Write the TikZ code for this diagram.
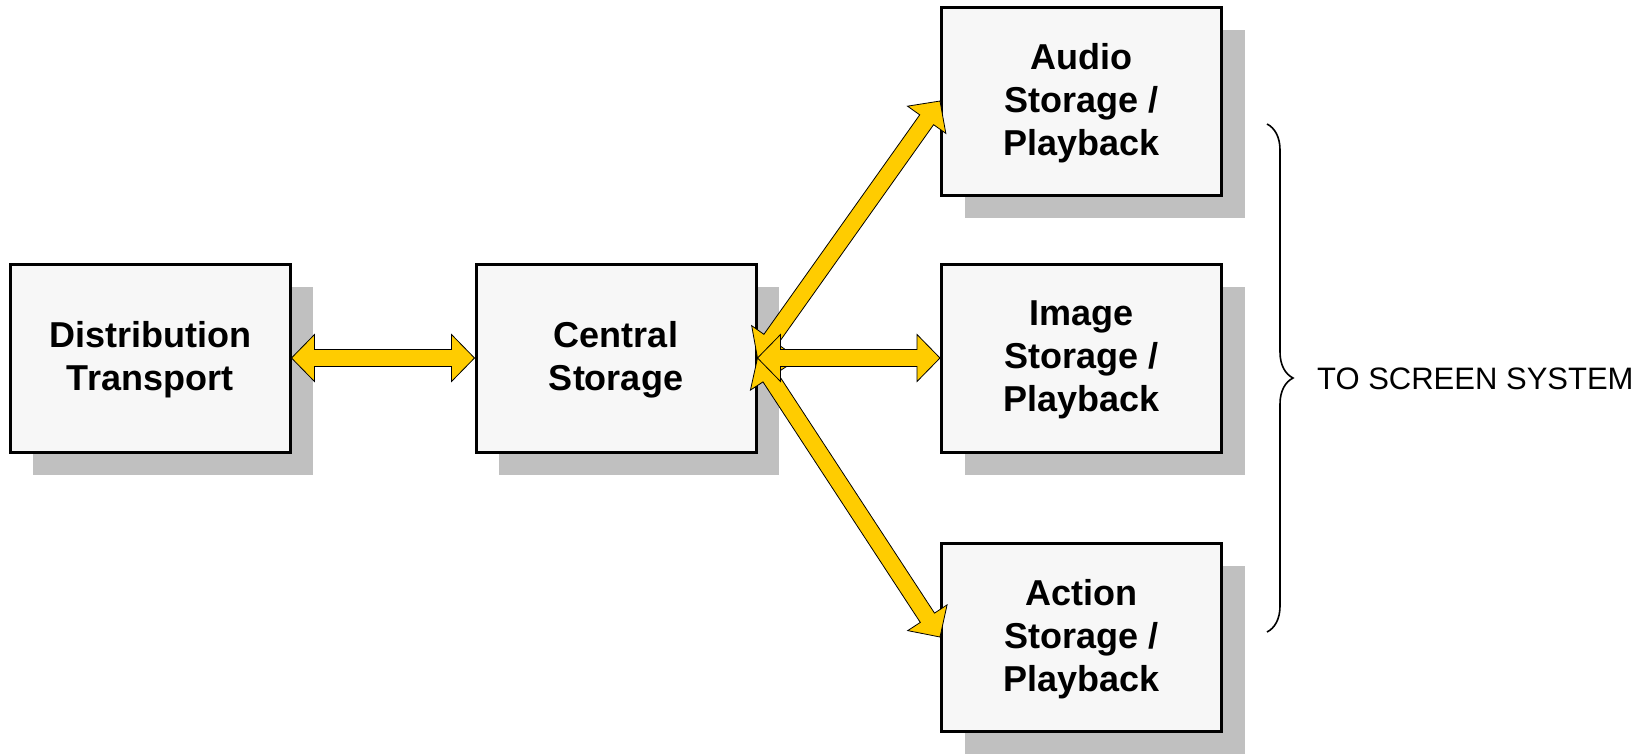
\documentclass[tikz,border=0pt]{standalone}
\usepackage{fontspec}
\setmainfont{Liberation Sans}
\usetikzlibrary{calc,shadows,decorations.pathreplacing}
\definecolor{boxfill}{HTML}{F7F7F7}
\definecolor{shadowgray}{HTML}{C0C0C0}
\definecolor{arrowyellow}{HTML}{FFCC00}
\tikzset{
  blockbox/.style={draw=black, line width=3pt, fill=boxfill,
    minimum width=280pt, minimum height=188pt, inner sep=0pt,
    drop shadow={shadow xshift=23pt, shadow yshift=-23pt, fill=shadowgray, opacity=1, draw=none}},
  boxlabel/.style={align=center, font=\bfseries\fontsize{36}{43}\selectfont,
    inner sep=0pt, yshift=-2pt},
  fatarrowstyle/.style={draw=black, line width=0.8pt, fill=arrowyellow, line join=miter},
  bracestyle/.style={draw=black, line width=1.6pt, decorate,
    decoration={brace, amplitude=26pt}},
  labeltext/.style={font=\fontsize{31}{37}\selectfont, anchor=west, inner sep=0pt}
}
\newcommand\fatarrow[2]{%
  \path let \p1=(#1), \p2=(#2),
    \n1={atan2(\y2-\y1,\x2-\x1)}, \n2={veclen(\x2-\x1,\y2-\y1)}
    in \pgfextra{\xdef\fatangle{\n1}\xdef\fatlen{\n2}};
  \begin{scope}[shift={(#1)}, rotate=\fatangle]
    \draw[fatarrowstyle] (0pt,0pt) -- (23pt,23.5pt) -- (23pt,8.5pt)
      -- ({\fatlen-23pt},8.5pt) -- ({\fatlen-23pt},23.5pt)
      -- ({\fatlen},0pt) -- ({\fatlen-23pt},-23.5pt)
      -- ({\fatlen-23pt},-8.5pt) -- (23pt,-8.5pt) -- (23pt,-23.5pt) -- cycle;
  \end{scope}}
\begin{document}
\begin{tikzpicture}[x=1pt, y=-1pt]
  \useasboundingbox (0,0) rectangle (1641,753);
  \node[blockbox, label={[boxlabel]center:{Distribution\\Transport}}] (dist) at (150,358) {};
  \node[blockbox, label={[boxlabel]center:{Central\\Storage}}] (cent) at (616,358) {};
  \node[blockbox, label={[boxlabel]center:{Audio\\Storage /\\Playback}}] (audio) at (1081.5,101) {};
  \node[blockbox, label={[boxlabel]center:{Image\\Storage /\\Playback}}] (image) at (1081.5,358) {};
  \node[blockbox, label={[boxlabel]center:{Action\\Storage /\\Playback}}] (action) at (1081.5,637) {};
  \fatarrow{dist.east}{cent.west}
  \fatarrow{cent.east}{audio.west}
  \fatarrow{cent.east}{action.west}
  \fatarrow{cent.east}{image.west}
  \coordinate (btop) at (1267,124);
  \coordinate (bbot) at (1267,632);
  \draw[bracestyle] (btop) -- (bbot);
  \node[labeltext] (screen) at (1317,378.5) {TO SCREEN SYSTEM};
\end{tikzpicture}
\end{document}
